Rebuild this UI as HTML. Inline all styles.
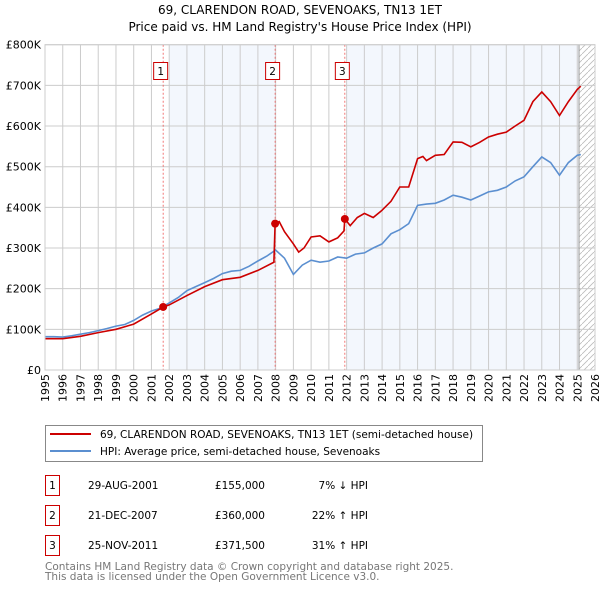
<!DOCTYPE html>
<html><head><meta charset="utf-8"><style>
body{margin:0;background:#fff;font-family:"DejaVu Sans","Liberation Sans",sans-serif;}
svg text{font-family:"DejaVu Sans","Liberation Sans",sans-serif;}
</style></head><body>
<svg id="c" width="600" height="590" xmlns="http://www.w3.org/2000/svg">
<text x="300" y="14" text-anchor="middle" font-size="12">69, CLARENDON ROAD, SEVENOAKS, TN13 1ET</text>
<text x="300" y="31" text-anchor="middle" font-size="12">Price paid vs. HM Land Registry's House Price Index (HPI)</text>
<g id="plot"></g>
<g>
<rect x="45.5" y="425.5" width="437" height="36" fill="#fff" stroke="#888"/>
<line x1="50" y1="434" x2="91" y2="434" stroke="#cc0000" stroke-width="2"/>
<text x="100" y="438" font-size="10.5">69, CLARENDON ROAD, SEVENOAKS, TN13 1ET (semi-detached house)</text>
<line x1="50" y1="451" x2="91" y2="451" stroke="#5b8fd0" stroke-width="2"/>
<text x="100" y="455" font-size="10.5">HPI: Average price, semi-detached house, Sevenoaks</text>
</g>
<g font-size="10.5">
<rect x="45.5" y="475.5" width="14" height="20" fill="none" stroke="#cc0000"/><text x="52.5" y="489" text-anchor="middle">1</text>
<text x="88" y="489">29-AUG-2001</text><text x="265" y="489" text-anchor="end">£155,000</text><text x="368" y="489" text-anchor="end">7% ↓ HPI</text>
<rect x="45.5" y="505.5" width="14" height="20" fill="none" stroke="#cc0000"/><text x="52.5" y="519" text-anchor="middle">2</text>
<text x="88" y="519">21-DEC-2007</text><text x="265" y="519" text-anchor="end">£360,000</text><text x="368" y="519" text-anchor="end">22% ↑ HPI</text>
<rect x="45.5" y="535.5" width="14" height="20" fill="none" stroke="#cc0000"/><text x="52.5" y="549" text-anchor="middle">3</text>
<text x="88" y="549">25-NOV-2011</text><text x="265" y="549" text-anchor="end">£371,500</text><text x="368" y="549" text-anchor="end">31% ↑ HPI</text>
</g>
<text x="45" y="570" font-size="10.5" fill="#777">Contains HM Land Registry data © Crown copyright and database right 2025.</text>
<text x="45" y="580" font-size="10.5" fill="#777">This data is licensed under the Open Government Licence v3.0.</text>
</svg>
<script>
const hpiYears=[1995,1995.5,1996,1996.5,1997,1997.5,1998,1998.5,1999,1999.5,2000,2000.5,2001,2001.5,2002,2002.5,2003,2003.5,2004,2004.5,2005,2005.5,2006,2006.5,2007,2007.5,2008,2008.5,2009,2009.5,2010,2010.5,2011,2011.5,2012,2012.5,2013,2013.5,2014,2014.5,2015,2015.5,2016,2016.5,2017,2017.5,2018,2018.5,2019,2019.5,2020,2020.5,2021,2021.5,2022,2022.5,2023,2023.5,2024,2024.5,2025,2025.2];
const hpiValues=[82,82,81,84,88,92,97,102,108,112,122,135,145,152,165,178,195,205,215,225,237,243,245,255,268,280,295,275,235,258,270,265,268,278,275,285,288,300,310,335,345,360,405,408,410,418,430,425,418,428,438,442,450,465,475,500,524,510,479,510,528,530];
const redYears=[1995,1996,1997,1998,1999,2000,2001,2001.66,2002,2003,2004,2005,2006,2007,2007.9,2007.97,2008.2,2008.5,2009,2009.3,2009.6,2010,2010.5,2011,2011.5,2011.85,2011.9,2012.2,2012.6,2013,2013.5,2014,2014.5,2015,2015.5,2016,2016.3,2016.5,2017,2017.5,2018,2018.5,2019,2019.5,2020,2020.5,2021,2021.5,2022,2022.5,2023,2023.5,2024,2024.5,2025,2025.2];
const redValues=[77,77,83,92,100,113,138,155,160,183,205,222,228,245,265,360,365,340,310,290,300,327,330,315,325,342,371.5,355,375,385,375,393,415,450,450,520,525,515,528,530,561,560,549,560,573,580,585,600,614,660,684,660,626,660,690,698];
const sales=[{n:"1",t:2001.66,v:155},{n:"2",t:2007.97,v:360},{n:"3",t:2011.9,v:371.5}];
const yTicks=[0,100,200,300,400,500,600,700,800];
const yTickLabels=["£0","£100K","£200K","£300K","£400K","£500K","£600K","£700K","£800K"];
const xTicks=[1995,1996,1997,1998,1999,2000,2001,2002,2003,2004,2005,2006,2007,2008,2009,2010,2011,2012,2013,2014,2015,2016,2017,2018,2019,2020,2021,2022,2023,2024,2025,2026];

const L=45,R=595,T=44.7,B=370;
const xs=t=>L+(t-1995)/(2026-1995)*(R-L);
const ys=v=>B-v/800*(B-T);
const NS="http://www.w3.org/2000/svg";
const g=document.getElementById('plot');
function mk(tag,a,p){const e=document.createElementNS(NS,tag);for(const k in a)e.setAttribute(k,a[k]);(p||g).appendChild(e);return e;}
// bands
let b=mk('rect',{x:xs(2002),y:T,width:xs(2008)-xs(2002),height:B-T,fill:'#eef3fc',opacity:0.7});

b=mk('rect',{x:xs(2012),y:T,width:xs(2025.1)-xs(2012),height:B-T,fill:'#eef3fc',opacity:0.7});

// hatch
const defs=mk('defs',{});
const pat=mk('pattern',{id:'h',width:6,height:6,patternUnits:'userSpaceOnUse'},defs);
mk('path',{d:'M0,6 L6,0',stroke:'#bbb','stroke-width':0.8},pat);
b=mk('rect',{x:xs(2025.1),y:T,width:R-xs(2025.1),height:B-T,fill:'url(#h)'});

// grid
yTicks.forEach((v,i)=>{const l=mk('line',{x1:L,x2:R,y1:ys(v),y2:ys(v),stroke:'#ccc'});

const t=mk('text',{x:L-4,y:ys(v)+4,'text-anchor':'end','font-size':11});t.textContent=yTickLabels[i];
});
xTicks.forEach(y=>{const l=mk('line',{x1:xs(y),x2:xs(y),y1:T,y2:B,stroke:'#ccc'});

const t=mk('text',{x:xs(y)+4,y:B+4,'text-anchor':'end','font-size':11,transform:`rotate(-90 ${xs(y)+4} ${B+4})`});t.textContent=y;
});
b=mk('line',{x1:xs(2025.1),x2:xs(2025.1),y1:T,y2:B,stroke:'#999'});

// sale lines
sales.forEach(s=>{const l=mk('line',{x1:xs(s.t),x2:xs(s.t),y1:T,y2:B,stroke:'#e55','stroke-dasharray':'2,2','stroke-width':0.8});
});
// series
function path(xa,va){return xa.map((t,i)=>(i?'L':'M')+xs(t).toFixed(1)+','+ys(va[i]).toFixed(1)).join('');}
let p=mk('path',{d:path(hpiYears,hpiValues),fill:'none',stroke:'#5b8fd0','stroke-width':1.6});

p=mk('path',{d:path(redYears,redValues),fill:'none',stroke:'#cc0000','stroke-width':1.6});

sales.forEach(s=>{const c=mk('circle',{cx:xs(s.t),cy:ys(s.v),r:4,fill:'#cc0000'});

const r=mk('rect',{x:xs(s.t)-9.5,y:62.5,width:14,height:17,fill:'#fff',stroke:'#cc0000'});

const t=mk('text',{x:xs(s.t)-2.5,y:75,'text-anchor':'middle','font-size':10.5});t.textContent=s.n;
});
b=mk('rect',{x:L,y:T,width:R-L,height:B-T,fill:'none',stroke:'#ccc'});

</script>
</body></html>
